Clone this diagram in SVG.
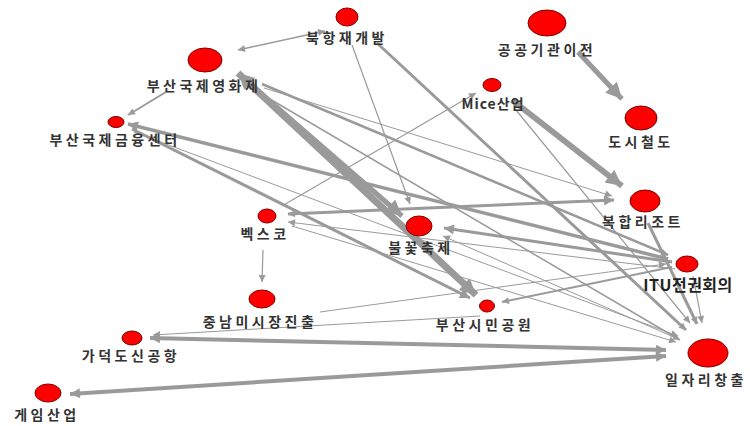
<svg xmlns="http://www.w3.org/2000/svg" width="750" height="426" viewBox="0 0 750 426">
<style>
.e{fill:none;stroke:#9a9a9a;stroke-linecap:butt}
.n{fill:#ff0000;stroke:#7a0000;stroke-width:1}
.t{font-family:"Noto Sans CJK KR","Noto Sans",sans-serif;font-size:14px;letter-spacing:3.5px;fill:#333;text-anchor:middle;font-weight:bold}
.b{font-family:"Noto Sans CJK KR","Noto Sans",sans-serif;font-size:16px;fill:#222;text-anchor:middle;font-weight:bold;letter-spacing:0.5px}
</style>
<defs>
<marker id="s" viewBox="0 0 10 10" refX="10" refY="5" markerUnits="userSpaceOnUse" markerWidth="9" markerHeight="7" orient="auto-start-reverse"><path d="M0,0 L10,5 L0,10 z" fill="#9a9a9a"/></marker>
<marker id="m" viewBox="0 0 10 10" refX="10" refY="5" markerUnits="userSpaceOnUse" markerWidth="13" markerHeight="10" orient="auto-start-reverse"><path d="M0,0 L10,5 L0,10 z" fill="#9a9a9a"/></marker>
<marker id="l" viewBox="0 0 10 10" refX="10" refY="5" markerUnits="userSpaceOnUse" markerWidth="20" markerHeight="16" orient="auto-start-reverse"><path d="M0,0 L10,5 L0,10 z" fill="#9a9a9a"/></marker>
</defs>
<rect width="750" height="426" fill="#fff"/>
<g id="connectors">
<line class="e" x1="238" y1="73" x2="476" y2="295" stroke-width="7" marker-start="url(#l)" marker-end="url(#l)"/>
<line class="e" x1="248" y1="82" x2="402" y2="216" stroke-width="5" marker-end="url(#l)"/>
<line class="e" x1="512" y1="100" x2="622" y2="186" stroke-width="6" marker-end="url(#l)"/>
<line class="e" x1="578" y1="52" x2="622" y2="99" stroke-width="5" marker-end="url(#l)"/>
<line class="e" x1="150" y1="338" x2="666" y2="350" stroke-width="4" marker-start="url(#m)" marker-end="url(#m)"/>
<line class="e" x1="70" y1="394" x2="666" y2="356" stroke-width="4" marker-start="url(#m)" marker-end="url(#m)"/>
<line class="e" x1="128" y1="124" x2="668" y2="259" stroke-width="3.5" marker-start="url(#m)" marker-end="url(#s)"/>
<line class="e" x1="132" y1="129" x2="470" y2="298" stroke-width="3" marker-end="url(#m)"/>
<line class="e" x1="262" y1="84" x2="668" y2="255" stroke-width="2.5" marker-end="url(#s)"/>
<line class="e" x1="288" y1="214" x2="614" y2="200" stroke-width="3" marker-start="url(#s)" marker-end="url(#m)"/>
<line class="e" x1="672" y1="262" x2="444" y2="228" stroke-width="3" marker-end="url(#m)"/>
<line class="e" x1="377" y1="43" x2="686" y2="330" stroke-width="3" marker-end="url(#s)"/>
<line class="e" x1="648" y1="223" x2="697" y2="324" stroke-width="3" marker-end="url(#s)"/>
<line class="e" x1="258" y1="92" x2="680" y2="340" stroke-width="1.5" marker-end="url(#s)"/>
<line class="e" x1="672" y1="267" x2="502" y2="302" stroke-width="2" marker-end="url(#s)"/>
<line class="e" x1="166" y1="92" x2="128" y2="115" stroke-width="2" marker-end="url(#s)"/>
<line class="e" x1="238" y1="50" x2="325" y2="31" stroke-width="1.5" marker-start="url(#s)" marker-end="url(#s)"/>
<line class="e" x1="352" y1="45" x2="410" y2="204" stroke-width="1.2" marker-end="url(#s)"/>
<line class="e" x1="282" y1="206" x2="476" y2="93" stroke-width="1.2" marker-end="url(#s)"/>
<line class="e" x1="263" y1="250" x2="262" y2="282" stroke-width="1.2" marker-end="url(#s)"/>
<line class="e" x1="516" y1="110" x2="690" y2="323" stroke-width="1.2" marker-end="url(#s)"/>
<line class="e" x1="675" y1="269" x2="288" y2="222" stroke-width="1" marker-end="url(#s)"/>
<line class="e" x1="320" y1="312" x2="666" y2="264" stroke-width="1" marker-end="url(#s)"/>
<line class="e" x1="480" y1="316" x2="153" y2="335" stroke-width="1" marker-end="url(#s)"/>
<line class="e" x1="134" y1="132" x2="678" y2="336" stroke-width="1" marker-end="url(#s)"/>
<line class="e" x1="676" y1="338" x2="443" y2="236" stroke-width="1" marker-end="url(#s)"/>
<line class="e" x1="292" y1="226" x2="676" y2="342" stroke-width="1" marker-end="url(#s)"/>
<line class="e" x1="693" y1="276" x2="702" y2="323" stroke-width="1.2" marker-end="url(#s)"/>
<line class="e" x1="264" y1="88" x2="612" y2="196" stroke-width="1" marker-end="url(#s)"/>
</g>
<g id="n-bukhang"><ellipse class="n" cx="347" cy="17" rx="11" ry="9"/><text class="t" x="347" y="43">북항재개발</text></g>
<g id="n-biff"><ellipse class="n" cx="205" cy="60" rx="17" ry="12"/><text class="t" x="204" y="91">부산국제영화제</text></g>
<g id="n-finance"><ellipse class="n" cx="116" cy="122" rx="8" ry="5.5"/><text class="t" x="115" y="145">부산국제금융센터</text></g>
<g id="n-public"><ellipse class="n" cx="547" cy="23" rx="19" ry="13"/><text class="t" x="547" y="55">공공기관이전</text></g>
<g id="n-mice"><ellipse class="n" cx="492" cy="85" rx="9" ry="6.5"/><text class="t" x="493" y="109" style="letter-spacing:1px">Mice산업</text></g>
<g id="n-rail"><ellipse class="n" cx="641" cy="118" rx="16" ry="12"/><text class="t" x="641" y="147">도시철도</text></g>
<g id="n-resort"><ellipse class="n" cx="645" cy="201" rx="15" ry="11"/><text class="t" x="643" y="227">복합리조트</text></g>
<g id="n-bexco"><ellipse class="n" cx="267" cy="216" rx="9" ry="7"/><text class="t" x="265" y="239">벡스코</text></g>
<g id="n-fireworks"><ellipse class="n" cx="419" cy="226" rx="13" ry="10"/><text class="t" x="421" y="253">불꽃축제</text></g>
<g id="n-itu"><ellipse class="n" cx="687" cy="264" rx="11" ry="8"/><text class="b" x="688" y="291">ITU전권회의</text></g>
<g id="n-park"><ellipse class="n" cx="487" cy="306" rx="7.5" ry="6"/><text class="t" x="485" y="330">부산시민공원</text></g>
<g id="n-latam"><ellipse class="n" cx="262" cy="299" rx="13" ry="9"/><text class="t" x="260" y="327">중남미시장진출</text></g>
<g id="n-gadeok"><ellipse class="n" cx="132" cy="338" rx="10" ry="7"/><text class="t" x="131" y="361">가덕도신공항</text></g>
<g id="n-game"><ellipse class="n" cx="48" cy="393" rx="13" ry="9"/><text class="t" x="47" y="420">게임산업</text></g>
<g id="n-jobs"><ellipse class="n" cx="708" cy="353" rx="20" ry="14"/><text class="t" x="706" y="385">일자리창출</text></g>
</svg>
